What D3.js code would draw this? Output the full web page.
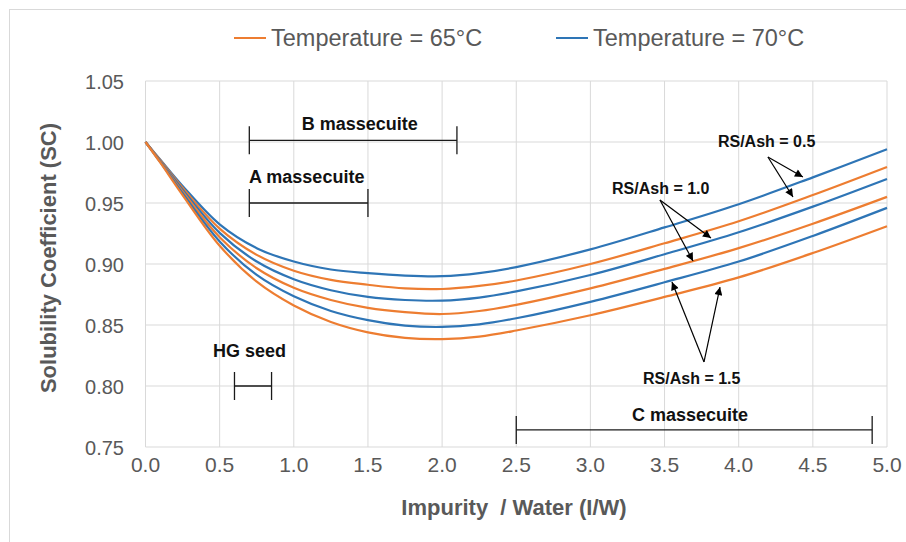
<!DOCTYPE html>
<html><head><meta charset="utf-8">
<script src="https://cdn.jsdelivr.net/npm/d3@7"></script>
<style>body{margin:0;background:#fff}svg{display:block}</style>
</head><body>
<script>
const xVals = [0, 0.1, 0.25, 0.5, 0.75, 1.0, 1.25, 1.5, 1.75, 2.0, 2.25, 2.5, 3.0, 3.5, 4.0, 4.5, 5.0];
const t70_rs05 = [1.000, 0.9855, 0.964, 0.9325, 0.913, 0.902, 0.8955, 0.8925, 0.8905, 0.890, 0.8925, 0.8975, 0.912, 0.930, 0.949, 0.971, 0.994];
const t65_rs05 = [1.000, 0.985, 0.9625, 0.929, 0.9075, 0.8945, 0.887, 0.883, 0.880, 0.8795, 0.882, 0.8865, 0.900, 0.917, 0.935, 0.9565, 0.9795];
const t70_rs10 = [1.000, 0.9845, 0.961, 0.9255, 0.902, 0.8875, 0.8785, 0.873, 0.8705, 0.870, 0.8725, 0.8775, 0.891, 0.908, 0.926, 0.947, 0.9697];
const t65_rs10 = [1.000, 0.984, 0.9595, 0.922, 0.8965, 0.8805, 0.8705, 0.864, 0.8605, 0.859, 0.8615, 0.8665, 0.880, 0.896, 0.913, 0.933, 0.955];
const t70_rs15 = [1.000, 0.9835, 0.958, 0.9185, 0.891, 0.8735, 0.8615, 0.854, 0.8495, 0.8484, 0.8505, 0.8555, 0.869, 0.885, 0.902, 0.923, 0.946];
const t65_rs15 = [1.000, 0.983, 0.9565, 0.915, 0.8855, 0.866, 0.8525, 0.844, 0.8395, 0.8385, 0.8405, 0.8455, 0.858, 0.873, 0.889, 0.909, 0.931];

const seriesNames = ["Temperature = 65°C", "Temperature = 70°C"];
const xTicks = [0, 0.5, 1, 1.5, 2, 2.5, 3, 3.5, 4, 4.5, 5];
const yTicks = [0.75, 0.80, 0.85, 0.90, 0.95, 1.00, 1.05];

const rangeLabels = ["B massecuite", "A massecuite", "HG seed", "C massecuite"];
const rangeStart = [0.7, 0.7, 0.6, 2.5];
const rangeEnd = [2.1, 1.5, 0.85, 4.9];
const rangeY = [1.0014, 0.95, 0.80, 0.764];
const rangeTextX = [1.054, 0.698, 0.455, 3.28];
const rangeTextY = [1.0098, 0.9664, 0.8238, 0.7713];

const rsLabels = ["RS/Ash = 0.5", "RS/Ash = 1.0", "RS/Ash = 1.5"];
const rsTextX = [3.86, 3.146, 3.355];
const rsTextY = [0.996, 0.9574, 0.8016];
const rsArrowFrom = [[4.197, 0.9877], [3.469, 0.9525], [3.766, 0.8197]];
const rsArrowTo = [[[4.433, 0.9713], [4.366, 0.9549]], [[3.813, 0.9213], [3.692, 0.9025]], [[3.55, 0.8852], [3.874, 0.8811]]];

const W = 906, H = 542;
const orange = "#ED7D31", blue = "#2E75B6";
const font = "'Liberation Sans', Arial, sans-serif";
const svg = d3.select("body").append("svg").attr("width", W).attr("height", H);

svg.append("rect").attr("x", 9.5).attr("y", 9.5).attr("width", 1000).attr("height", 1000)
  .attr("fill", "none").attr("stroke", "#d9d9d9");

const x = d3.scaleLinear().domain([0, 5]).range([145.5, 887]);
const y = d3.scaleLinear().domain([0.75, 1.05]).range([447, 81]);

svg.append("g").selectAll("line").data(xTicks).join("line")
  .attr("x1", d => x(d)).attr("x2", d => x(d)).attr("y1", y(0.75)).attr("y2", y(1.05))
  .attr("stroke", "#d9d9d9").attr("stroke-width", 1);
svg.append("g").selectAll("line").data(yTicks).join("line")
  .attr("x1", x(0)).attr("x2", x(5)).attr("y1", d => y(d)).attr("y2", d => y(d))
  .attr("stroke", "#d9d9d9").attr("stroke-width", 1);

svg.append("g").selectAll("text").data(xTicks).join("text")
  .attr("x", d => x(d)).attr("y", 472).attr("text-anchor", "middle")
  .attr("font-family", font).attr("font-size", 21).attr("fill", "#595959")
  .text(d => d3.format(".1f")(d));
svg.append("g").selectAll("text").data(yTicks).join("text")
  .attr("x", 124).attr("y", d => y(d) + 7.5).attr("text-anchor", "end")
  .attr("font-family", font).attr("font-size", 20).attr("fill", "#595959")
  .text(d => d3.format(".2f")(d));

svg.append("text").attr("x", 514).attr("y", 515).attr("text-anchor", "middle")
  .attr("font-family", font).attr("font-size", 22).attr("font-weight", "bold").attr("fill", "#595959")
  .style("white-space", "pre")
  .text("Impurity  / Water (I/W)");
svg.append("text").attr("transform", "translate(56,258) rotate(-90)").attr("text-anchor", "middle")
  .attr("font-family", font).attr("font-size", 22).attr("font-weight", "bold").attr("fill", "#595959")
  .text("Solubility Coefficient (SC)");

const line = d3.line().x((d, i) => x(xVals[i])).y(d => y(d)).curve(d3.curveCatmullRom.alpha(0.5));
const curves = [
  [t70_rs05, blue], [t65_rs05, orange], [t70_rs10, blue],
  [t65_rs10, orange], [t70_rs15, blue], [t65_rs15, orange]
];
svg.append("g").selectAll("path").data(curves).join("path")
  .attr("d", d => line(d[0])).attr("fill", "none").attr("stroke", d => d[1]).attr("stroke-width", 2.2);

const rg = svg.append("g");
rangeLabels.forEach((lab, i) => {
  const yy = y(rangeY[i]);
  rg.append("line").attr("x1", x(rangeStart[i])).attr("x2", x(rangeEnd[i])).attr("y1", yy).attr("y2", yy)
    .attr("stroke", "#1a1a1a").attr("stroke-width", 1.3);
  [rangeStart[i], rangeEnd[i]].forEach(v => {
    rg.append("line").attr("x1", x(v)).attr("x2", x(v)).attr("y1", yy - 14).attr("y2", yy + 14)
      .attr("stroke", "#1a1a1a").attr("stroke-width", 1.3);
  });
  rg.append("text").attr("x", x(rangeTextX[i])).attr("y", y(rangeTextY[i]))
    .attr("font-family", font).attr("font-size", 18).attr("font-weight", "bold").attr("fill", "#111")
    .text(lab);
});

svg.append("defs").append("marker").attr("id", "ah").attr("viewBox", "0 0 10 10")
  .attr("refX", 10).attr("refY", 5).attr("markerWidth", 10).attr("markerHeight", 8)
  .attr("markerUnits", "userSpaceOnUse").attr("orient", "auto")
  .append("path").attr("d", "M0,0L10,5L0,10Z").attr("fill", "#000");
const ag = svg.append("g");
rsLabels.forEach((lab, i) => {
  ag.append("text").attr("x", x(rsTextX[i])).attr("y", y(rsTextY[i]))
    .attr("font-family", font).attr("font-size", 16).attr("font-weight", "bold").attr("fill", "#111")
    .text(lab);
  rsArrowTo[i].forEach(t => {
    ag.append("line").attr("x1", x(rsArrowFrom[i][0])).attr("y1", y(rsArrowFrom[i][1]))
      .attr("x2", x(t[0])).attr("y2", y(t[1]))
      .attr("stroke", "#000").attr("stroke-width", 1.2).attr("marker-end", "url(#ah)");
  });
});

const lg = svg.append("g");
const legX = [234, 556];
const legColors = [orange, blue];
seriesNames.forEach((n, i) => {
  lg.append("line").attr("x1", legX[i]).attr("x2", legX[i] + 32).attr("y1", 38).attr("y2", 38)
    .attr("stroke", legColors[i]).attr("stroke-width", 2);
  lg.append("text").attr("x", legX[i] + 37).attr("y", 46)
    .attr("font-family", font).attr("font-size", 23.5).attr("fill", "#595959").text(n);
});
</script>
</body></html>
